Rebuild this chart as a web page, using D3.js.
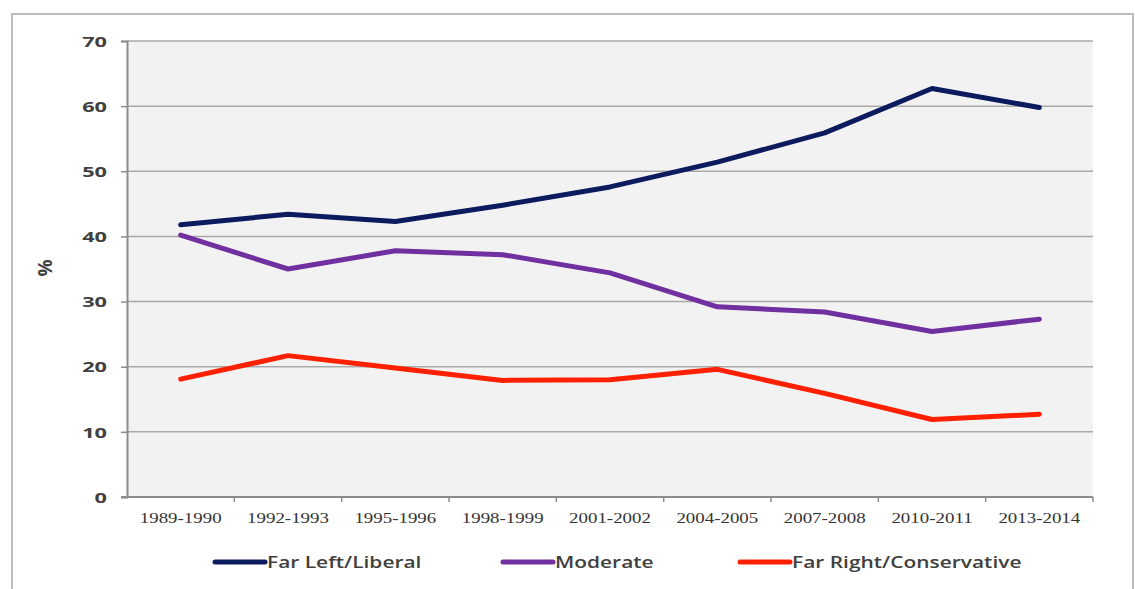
<!DOCTYPE html>
<html>
<head>
<meta charset="utf-8">
<script src="https://cdn.jsdelivr.net/npm/d3@7"></script>
<style>
  html, body { margin: 0; padding: 0; background: #ffffff; }
  svg { display: block; }
</style>
</head>
<body>
<svg id="chart" width="1135" height="589"></svg>
<script>
// School years surveyed
const categories = ["1989-1990", "1992-1993", "1995-1996", "1998-1999", "2001-2002",
                    "2004-2005", "2007-2008", "2010-2011", "2013-2014"];

// Share of respondents (%) by political self-identification
const farLeftLiberal = [41.8, 43.4, 42.3, 44.8, 47.6, 51.4, 55.9, 62.7, 59.8];
const moderate       = [40.2, 35.0, 37.8, 37.2, 34.4, 29.2, 28.4, 25.4, 27.3];
const farRightConservative = [18.1, 21.7, 19.8, 17.9, 18.0, 19.6, 15.9, 11.9, 12.7];

const yTicks = [0, 10, 20, 30, 40, 50, 60, 70];
const yTitle = "%";

const series = [
  { name: "Far Left/Liberal", values: farLeftLiberal, color: "#0c1a5e" },
  { name: "Moderate", values: moderate, color: "#7030a0" },
  { name: "Far Right/Conservative", values: farRightConservative, color: "#ff2000" }
];

// text in this chart is set wide (horizontally stretched)
const WIDE = 1.35;

const svg = d3.select("#chart");

// outer frame
svg.append("rect")
  .attr("x", 12).attr("y", 14)
  .attr("width", 1121).attr("height", 600)
  .attr("fill", "none")
  .attr("stroke", "#bdbdbd")
  .attr("stroke-width", 2);

const plot = { left: 127, right: 1093, top: 41, bottom: 497 };

const x = d3.scaleBand()
  .domain(categories)
  .range([plot.left, plot.right])
  .padding(0);

const y = d3.scaleLinear()
  .domain([0, 70])
  .range([plot.bottom, plot.top]);

// plot background
svg.append("rect")
  .attr("x", plot.left).attr("y", plot.top)
  .attr("width", plot.right - plot.left)
  .attr("height", plot.bottom - plot.top)
  .attr("fill", "#f2f2f2");

// horizontal gridlines
svg.append("g")
  .selectAll("line")
  .data(yTicks.filter(t => t > 0))
  .join("line")
  .attr("x1", plot.left).attr("x2", plot.right)
  .attr("y1", d => y(d)).attr("y2", d => y(d))
  .attr("stroke", "#a9a9a9")
  .attr("stroke-width", 1.5);

// y axis
const yAxis = svg.append("g")
  .attr("transform", `translate(${plot.left},0)`)
  .call(d3.axisLeft(y).tickValues(yTicks).tickSize(6).tickFormat(d3.format("d")));
yAxis.select(".domain").attr("stroke", "#8c8c8c").attr("stroke-width", 2);
yAxis.selectAll(".tick line").attr("stroke", "#8c8c8c").attr("stroke-width", 1.5);
yAxis.selectAll(".tick text")
  .attr("x", 0)
  .attr("dy", "0.35em")
  .attr("transform", "translate(-20,0) scale(1.45,1)")
  .attr("fill", "#404040")
  .style("font-family", "'Open Sans', 'DejaVu Sans', sans-serif")
  .style("font-weight", "700")
  .style("font-size", "15px");

// x axis with ticks on the category boundaries
const xAxisG = svg.append("g")
  .attr("transform", `translate(0,${plot.bottom})`);
xAxisG.append("line")
  .attr("x1", plot.left - 6).attr("x2", plot.right)
  .attr("y1", 0).attr("y2", 0)
  .attr("stroke", "#8c8c8c").attr("stroke-width", 2);
xAxisG.selectAll("line.bound")
  .data(categories)
  .join("line")
  .attr("class", "bound")
  .attr("x1", d => x(d) + x.bandwidth()).attr("x2", d => x(d) + x.bandwidth())
  .attr("y1", 0).attr("y2", 5)
  .attr("stroke", "#8c8c8c").attr("stroke-width", 1.5);
xAxisG.selectAll("text")
  .data(categories)
  .join("text")
  .attr("transform", d => `translate(${x(d) + x.bandwidth() / 2},26) scale(${WIDE},1)`)
  .attr("text-anchor", "middle")
  .attr("fill", "#333333")
  .style("font-family", "'Liberation Serif', 'DejaVu Serif', serif")
  .style("font-size", "14px")
  .text(d => d);

// y axis title
svg.append("text")
  .attr("transform", "translate(52,268) rotate(-90)")
  .attr("text-anchor", "middle")
  .attr("fill", "#404040")
  .style("font-family", "'Open Sans', 'DejaVu Sans', sans-serif")
  .style("font-weight", "700")
  .style("font-size", "19px")
  .text(yTitle);

// series lines
const line = d3.line()
  .x((d, i) => x(categories[i]) + x.bandwidth() / 2)
  .y(d => y(d));

svg.append("g")
  .selectAll("path")
  .data(series)
  .join("path")
  .attr("d", d => line(d.values))
  .attr("fill", "none")
  .attr("stroke", d => d.color)
  .attr("stroke-width", 5)
  .attr("stroke-linejoin", "round")
  .attr("stroke-linecap", "round");

// legend
const legendX = [215, 503, 740];
const legend = svg.append("g")
  .selectAll("g")
  .data(series)
  .join("g")
  .attr("transform", (d, i) => `translate(${legendX[i]},562)`);
legend.append("line")
  .attr("x1", 0).attr("x2", 50)
  .attr("y1", 0).attr("y2", 0)
  .attr("stroke", d => d.color)
  .attr("stroke-width", 5)
  .attr("stroke-linecap", "round");
legend.append("text")
  .attr("transform", `translate(52,5.5) scale(${WIDE},1)`)
  .attr("fill", "#404040")
  .style("font-family", "'Open Sans', 'DejaVu Sans', sans-serif")
  .style("font-weight", "600")
  .style("font-size", "15.5px")
  .text(d => d.name);
</script>
</body>
</html>
